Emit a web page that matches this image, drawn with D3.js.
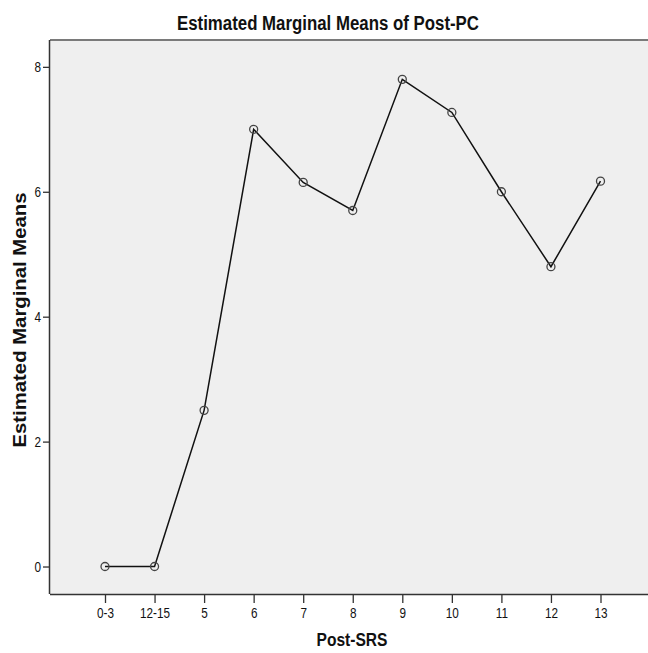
<!DOCTYPE html>
<html><head><meta charset="utf-8">
<script src="https://cdn.jsdelivr.net/npm/d3@7"></script>
<style>
body{margin:0;background:#fff;}
svg text{font-family:"Liberation Sans",Arial,sans-serif;fill:#111;}
</style></head>
<body><svg id="c" width="648" height="653"></svg>
<script>
const categories = ["0-3","12-15","5","6","7","8","9","10","11","12","13"];
const values = [0, 0, 2.5, 7.0, 6.15, 5.7, 7.8, 7.27, 6.0, 4.8, 6.17];
const yTicks = [0, 2, 4, 6, 8];
const title = "Estimated Marginal Means of Post-PC";
const xTitle = "Post-SRS";
const yTitle = "Estimated Marginal Means";

const svg = d3.select("#c");
const plot = {left:50, right:648, top:40, bottom:594};
const narrow = 0.84;

const x = d3.scalePoint().domain(categories).range([105, 600.5]);
const y = d3.scaleLinear().domain([-0.44, 8.43]).range([plot.bottom, plot.top]);

svg.append("rect").attr("x",plot.left).attr("y",plot.top)
  .attr("width",plot.right-plot.left).attr("height",plot.bottom-plot.top)
  .attr("fill","#efefef");
svg.append("line").attr("x1",plot.left).attr("x2",plot.right)
  .attr("y1",plot.top).attr("y2",plot.top).attr("stroke","#7a7a7a").attr("stroke-width",2);

const xAxis = svg.append("g").attr("transform",`translate(0,${plot.bottom})`)
  .call(d3.axisBottom(x).tickSize(9).tickPadding(5));
xAxis.select(".domain").attr("d",`M${plot.left},0.5H${plot.right}`).attr("stroke","#333").attr("stroke-width",1.5);
xAxis.selectAll(".tick line").attr("stroke","#333").attr("stroke-width",1.3);
xAxis.selectAll(".tick text").attr("font-size",14).attr("font-family","'Liberation Sans',Arial,sans-serif")
  .attr("fill","#111").attr("transform",`scale(${narrow},1)`);

const yAxis = svg.append("g").attr("transform",`translate(${plot.left},0)`)
  .call(d3.axisLeft(y).tickValues(yTicks).tickSize(7).tickPadding(2).tickFormat(d3.format("d")));
yAxis.select(".domain").attr("d",`M-0.5,${plot.top}V${plot.bottom}`).attr("stroke","#333").attr("stroke-width",1.5);
yAxis.selectAll(".tick line").attr("stroke","#333").attr("stroke-width",1.3);
yAxis.selectAll(".tick text").attr("font-size",14).attr("font-family","'Liberation Sans',Arial,sans-serif")
  .attr("fill","#111").attr("x",-9/narrow).attr("transform",`scale(${narrow},1)`);

const data = categories.map((c,i)=>({c, v:values[i]}));
svg.append("path").datum(data)
  .attr("d", d3.line().x(d=>x(d.c)).y(d=>y(d.v)))
  .attr("fill","none").attr("stroke","#111").attr("stroke-width",1.5);
svg.append("g").selectAll("circle").data(data).join("circle")
  .attr("cx",d=>x(d.c)).attr("cy",d=>y(d.v)).attr("r",4)
  .attr("fill","none").attr("stroke","#444").attr("stroke-width",1.3);

svg.append("text").attr("x",328).attr("y",30)
  .attr("text-anchor","middle").attr("font-size",19.5).attr("font-weight","bold")
  .attr("textLength",302).attr("lengthAdjust","spacingAndGlyphs").text(title);
svg.append("text").attr("x",352).attr("y",646)
  .attr("text-anchor","middle").attr("font-size",18).attr("font-weight","bold")
  .attr("textLength",71).attr("lengthAdjust","spacingAndGlyphs").text(xTitle);
svg.append("text").attr("transform",`translate(26,320) rotate(-90)`)
  .attr("text-anchor","middle").attr("font-size",18).attr("font-weight","bold")
  .attr("textLength",255).attr("lengthAdjust","spacingAndGlyphs").text(yTitle);
</script></body></html>
